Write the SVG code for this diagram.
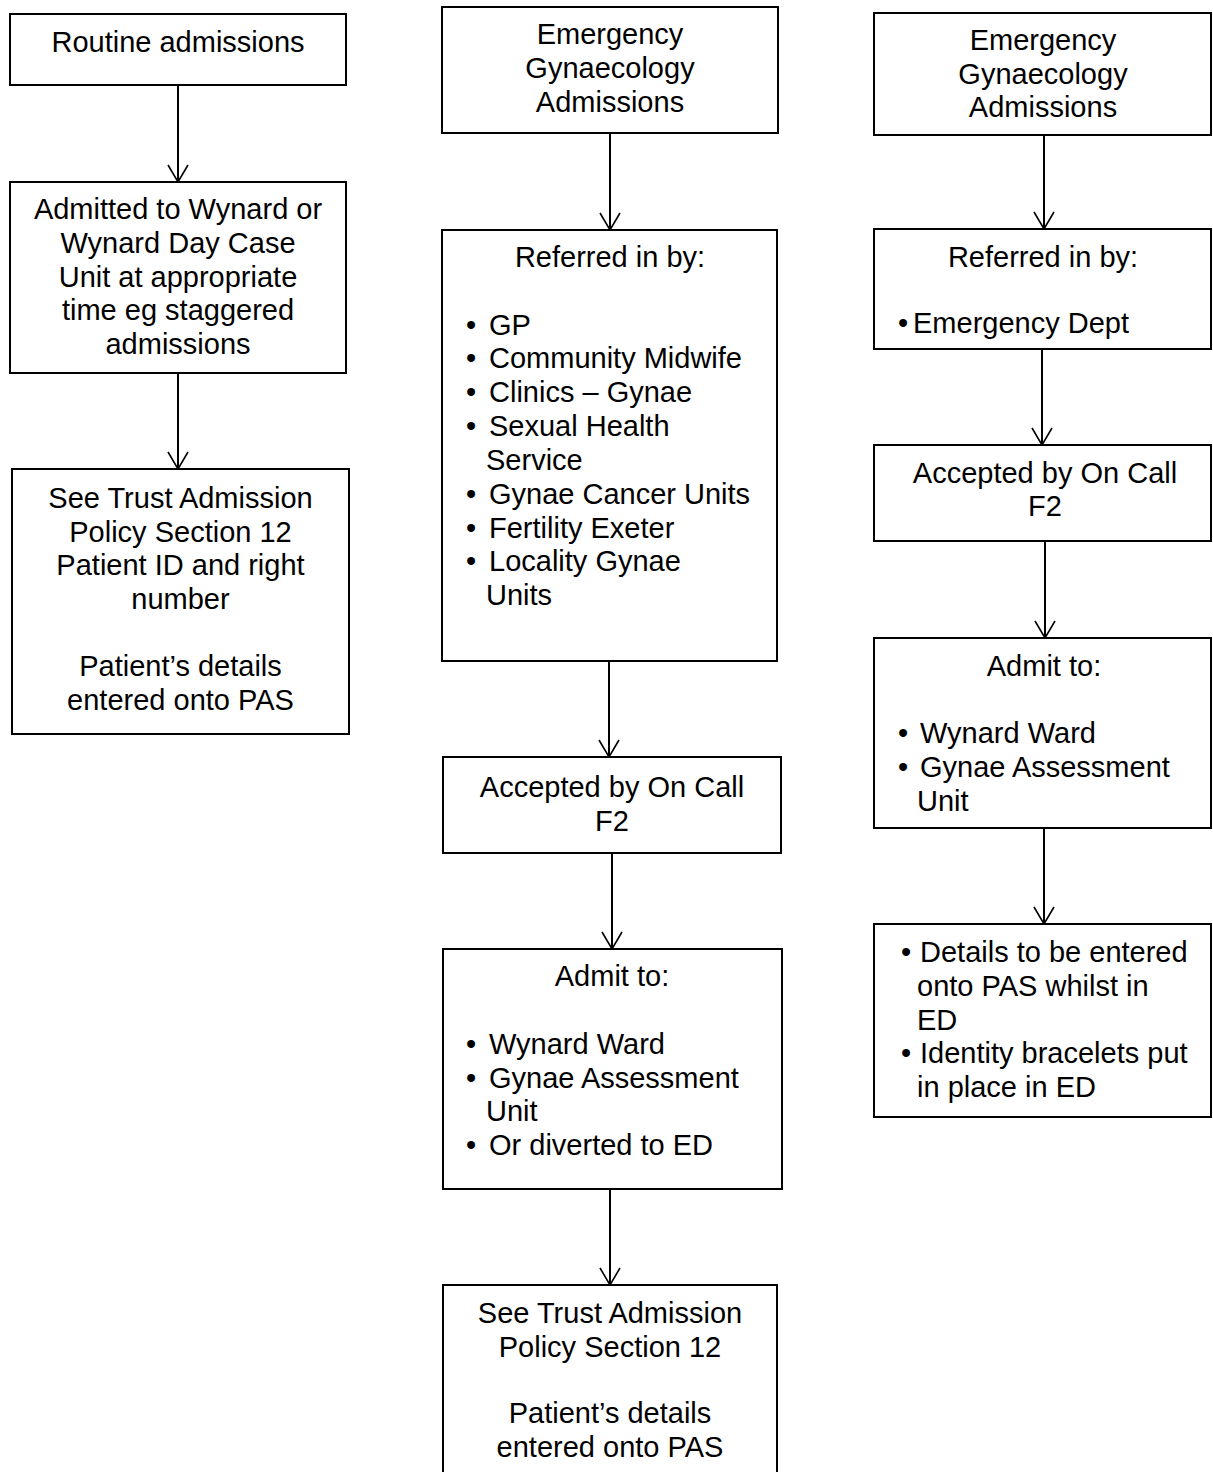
<svg xmlns="http://www.w3.org/2000/svg" width="1213" height="1472" viewBox="0 0 1213 1472">
  <style>
    .box { fill: #ffffff; stroke: #000000; stroke-width: 2; }
    .link { fill: none; stroke: #000000; stroke-width: 2; }
    text { font-family: "Liberation Sans", Arial, sans-serif; font-size: 29px; fill: #000000; }
    .c { text-anchor: middle; }
  </style>
  <defs>
    <marker id="arrow" viewBox="-1 -11 20 22" refX="17" refY="0" markerWidth="20" markerHeight="22" markerUnits="userSpaceOnUse" orient="auto">
      <path d="M0,-10 L17,0 L0,10" fill="none" stroke="#000000" stroke-width="1.6"/>
    </marker>
    <clipPath id="clipJ">
      <rect x="874" y="229" width="337" height="111"/>
    </clipPath>
  </defs>
  <rect width="1213" height="1472" fill="#ffffff"/>

  <!-- connectors -->
  <g id="connectors">
    <line class="link" x1="178" y1="85" x2="178" y2="182" marker-end="url(#arrow)"/>
    <line class="link" x1="178" y1="373" x2="178" y2="469" marker-end="url(#arrow)"/>
    <line class="link" x1="610" y1="133" x2="610" y2="230" marker-end="url(#arrow)"/>
    <line class="link" x1="609" y1="661" x2="609" y2="757" marker-end="url(#arrow)"/>
    <line class="link" x1="612" y1="853" x2="612" y2="949" marker-end="url(#arrow)"/>
    <line class="link" x1="610" y1="1189" x2="610" y2="1285" marker-end="url(#arrow)"/>
    <line class="link" x1="1044" y1="135" x2="1044" y2="229" marker-end="url(#arrow)"/>
    <line class="link" x1="1042" y1="349" x2="1042" y2="445" marker-end="url(#arrow)"/>
    <line class="link" x1="1045" y1="541" x2="1045" y2="638" marker-end="url(#arrow)"/>
    <line class="link" x1="1044" y1="828" x2="1044" y2="924" marker-end="url(#arrow)"/>
  </g>

  <!-- left column: routine admissions -->
  <g id="routine">
    <rect class="box" x="10" y="14" width="336" height="71"/>
    <text class="c" x="178" y="52">Routine admissions</text>
  </g>
  <g id="admitted-wynard">
    <rect class="box" x="10" y="182" width="336" height="191"/>
    <text class="c" x="178" y="219">Admitted to Wynard or</text>
    <text class="c" x="178" y="253">Wynard Day Case</text>
    <text class="c" x="178" y="286.5">Unit at appropriate</text>
    <text class="c" x="178" y="320">time eg staggered</text>
    <text class="c" x="178" y="354">admissions</text>
  </g>
  <g id="policy-routine">
    <rect class="box" x="12" y="469" width="337" height="265"/>
    <text class="c" x="180.5" y="508">See Trust Admission</text>
    <text class="c" x="180.5" y="541.5">Policy Section 12</text>
    <text class="c" x="180.5" y="575">Patient ID and right</text>
    <text class="c" x="180.5" y="609">number</text>
    <text class="c" x="180.5" y="676">Patient’s details</text>
    <text class="c" x="180.5" y="710">entered onto PAS</text>
  </g>

  <!-- middle column: emergency gynaecology admissions -->
  <g id="emergency-mid">
    <rect class="box" x="442" y="7" width="336" height="126"/>
    <text class="c" x="610" y="44">Emergency</text>
    <text class="c" x="610" y="78">Gynaecology</text>
    <text class="c" x="610" y="111.5">Admissions</text>
  </g>
  <g id="referred-mid">
    <rect class="box" x="442" y="230" width="335" height="431"/>
    <text class="c" x="610" y="267">Referred in by:</text>
    <text x="466" y="334.5">•</text><text x="489" y="334.5">GP</text>
    <text x="466" y="368">•</text><text x="489" y="368">Community Midwife</text>
    <text x="466" y="402">•</text><text x="489" y="402">Clinics – Gynae</text>
    <text x="466" y="436">•</text><text x="489" y="436">Sexual Health</text>
    <text x="486" y="470">Service</text>
    <text x="466" y="504">•</text><text x="489" y="504">Gynae Cancer Units</text>
    <text x="466" y="537.5">•</text><text x="489" y="537.5">Fertility Exeter</text>
    <text x="466" y="571">•</text><text x="489" y="571">Locality Gynae</text>
    <text x="486" y="605">Units</text>
  </g>
  <g id="accepted-mid">
    <rect class="box" x="443" y="757" width="338" height="96"/>
    <text class="c" x="612" y="797">Accepted by On Call</text>
    <text class="c" x="612" y="830.5">F2</text>
  </g>
  <g id="admit-mid">
    <rect class="box" x="443" y="949" width="339" height="240"/>
    <text class="c" x="612" y="986">Admit to:</text>
    <text x="466" y="1054">•</text><text x="489" y="1054">Wynard Ward</text>
    <text x="466" y="1088">•</text><text x="489" y="1088">Gynae Assessment</text>
    <text x="486" y="1121">Unit</text>
    <text x="466" y="1155">•</text><text x="489" y="1155">Or diverted to ED</text>
  </g>
  <g id="policy-mid">
    <rect class="box" x="443" y="1285" width="334" height="200"/>
    <text class="c" x="610" y="1323">See Trust Admission</text>
    <text class="c" x="610" y="1357">Policy Section 12</text>
    <text class="c" x="610" y="1423">Patient’s details</text>
    <text class="c" x="610" y="1457">entered onto PAS</text>
  </g>

  <!-- right column: emergency department route -->
  <g id="emergency-right">
    <rect class="box" x="874" y="13" width="337" height="122"/>
    <text class="c" x="1043" y="50">Emergency</text>
    <text class="c" x="1043" y="83.5">Gynaecology</text>
    <text class="c" x="1043" y="117">Admissions</text>
  </g>
  <g id="referred-right">
    <rect class="box" x="874" y="229" width="337" height="120"/>
    <text class="c" x="1043" y="267">Referred in by:</text>
    <g clip-path="url(#clipJ)">
      <text x="898" y="333">•</text><text x="913" y="333">Emergency Dept</text>
    </g>
  </g>
  <g id="accepted-right">
    <rect class="box" x="874" y="445" width="337" height="96"/>
    <text class="c" x="1045" y="482.5">Accepted by On Call</text>
    <text class="c" x="1045" y="516">F2</text>
  </g>
  <g id="admit-right">
    <rect class="box" x="874" y="638" width="337" height="190"/>
    <text class="c" x="1044" y="676">Admit to:</text>
    <text x="898" y="743">•</text><text x="920" y="743">Wynard Ward</text>
    <text x="898" y="777">•</text><text x="920" y="777">Gynae Assessment</text>
    <text x="917" y="811">Unit</text>
  </g>
  <g id="pas-right">
    <rect class="box" x="874" y="924" width="337" height="193"/>
    <text x="901" y="962">•</text><text x="920" y="962">Details to be entered</text>
    <text x="917" y="996">onto PAS whilst in</text>
    <text x="917" y="1029.5">ED</text>
    <text x="901" y="1063">•</text><text x="920" y="1063">Identity bracelets put</text>
    <text x="917" y="1097">in place in ED</text>
  </g>
</svg>
